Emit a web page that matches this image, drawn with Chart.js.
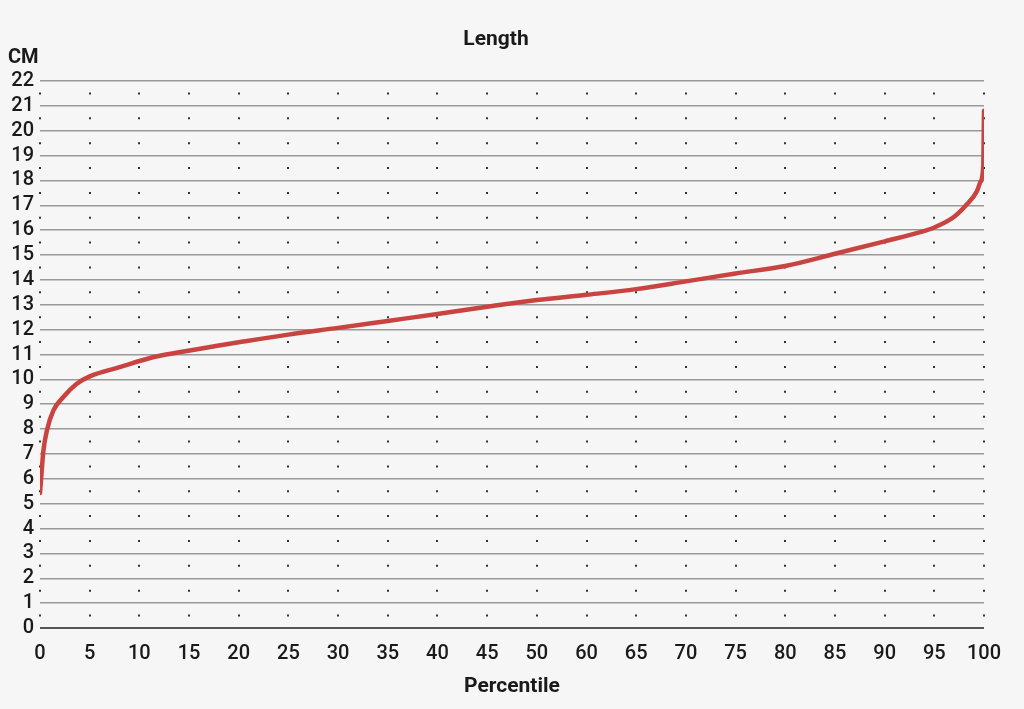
<!DOCTYPE html>
<html>
<head>
<meta charset="utf-8">
<script src="https://cdn.jsdelivr.net/npm/chart.js@4"></script>
<style>
  html, body { margin: 0; padding: 0; background: #f6f6f6; }
  #wrap { width: 1024px; height: 709px; }
</style>
</head>
<body>
<div id="wrap"><canvas id="myCanvas"></canvas></div>
<script>
// x tick labels (note: the original axis skips 55)
const xTickLabels = ['0', '5', '10', '15', '20', '25', '30', '35', '40', '45',
  '50', '60', '65', '70', '75', '80', '85', '90', '95', '100'];

// curve positions along the x axis (in tick slots) and lengths in cm
const curveX = [0, 0.07, 0.14, 0.27, 0.47, 0.74, 1, 1.6, 2.27, 2.8, 3.6, 4, 5, 6, 7, 8, 9,
  10, 11, 12, 13, 14, 15, 16, 17, 17.7, 18, 18.4, 18.66, 18.86, 18.93, 18.985, 19];
const curveY = [5.43, 7.15, 7.95, 8.75, 9.29, 9.82, 10.12, 10.49, 10.89, 11.09, 11.36, 11.49,
  11.8, 12.07, 12.35, 12.63, 12.92, 13.19, 13.4, 13.63, 13.94, 14.26, 14.56, 15.05, 15.55,
  15.91, 16.11, 16.54, 17.05, 17.58, 17.95, 18.6, 20.8];

const yMax = 22;

const points = curveX.map((x, i) => ({ x: x, y: curveY[i] }));

// spacing of one cm on the y axis, for the dotted vertical lines
function unitPx(ctx) {
  const y = ctx.chart.scales.y;
  if (!y) return NaN;
  return Math.abs(y.getPixelForValue(0) - y.getPixelForValue(1));
}

const textColor = '#1a1a1a';

const data = {
  datasets: [{
    label: 'Length',
    data: points,
    borderColor: '#c94441',
    backgroundColor: '#c94441',
    borderWidth: 4.5,
    borderCapStyle: 'round',
    pointRadius: 0,
    cubicInterpolationMode: 'monotone',
    fill: false
  }]
};

const config = {
  type: 'line',
  data: data,
  options: {
    responsive: true,
    maintainAspectRatio: false,
    animation: false,
    layout: { padding: { top: 29, right: 40, bottom: 12, left: 8 } },
    plugins: {
      legend: { display: false },
      tooltip: { enabled: false },
      title: {
        display: true,
        text: 'Length',
        color: textColor,
        font: { family: 'Roboto', size: 21, weight: 'bold', lineHeight: 1 },
        padding: { top: 0, bottom: -2 }
      },
      subtitle: {
        display: true,
        text: 'CM',
        align: 'start',
        color: textColor,
        font: { family: 'Roboto', size: 20, weight: 'bold', lineHeight: 1 },
        padding: { top: 0, bottom: 13 }
      }
    },
    scales: {
      x: {
        type: 'linear',
        min: 0,
        max: xTickLabels.length - 1,
        ticks: {
          stepSize: 1,
          autoSkip: false,
          maxRotation: 0,
          color: textColor,
          font: { family: 'Roboto', size: 20, weight: 500 },
          padding: 14,
          callback: (v) => xTickLabels[v]
        },
        grid: {
          color: '#333333',
          lineWidth: 2,
          drawTicks: false
        },
        border: {
          display: false,
          dash: (ctx) => {
            const p = unitPx(ctx);
            return isFinite(p) ? [2, p - 2] : [];
          },
          dashOffset: (ctx) => {
            const p = unitPx(ctx);
            return isFinite(p) ? p / 2 + 1 : 0;
          }
        },
        title: {
          display: true,
          text: 'Percentile',
          color: textColor,
          font: { family: 'Roboto', size: 21, weight: 'bold', lineHeight: 1 },
          padding: { top: 0, bottom: 0 }
        },
        afterFit: (scale) => { scale.height = 69; }
      },
      y: {
        min: 0,
        max: yMax,
        ticks: {
          stepSize: 1,
          autoSkip: false,
          color: textColor,
          font: { family: 'Roboto', size: 20, weight: 500 },
          padding: 6
        },
        grid: {
          color: (ctx) => ctx.tick && ctx.tick.value === 0 ? '#555555' : '#999999',
          lineWidth: (ctx) => ctx.tick && ctx.tick.value === 0 ? 2 : 1.5,
          drawTicks: false
        },
        border: { display: false },
        afterFit: (scale) => { scale.width = 32; }
      }
    }
  }
};

const myChart = new Chart(
  document.getElementById('myCanvas'),
  config
);
</script>
</body>
</html>
